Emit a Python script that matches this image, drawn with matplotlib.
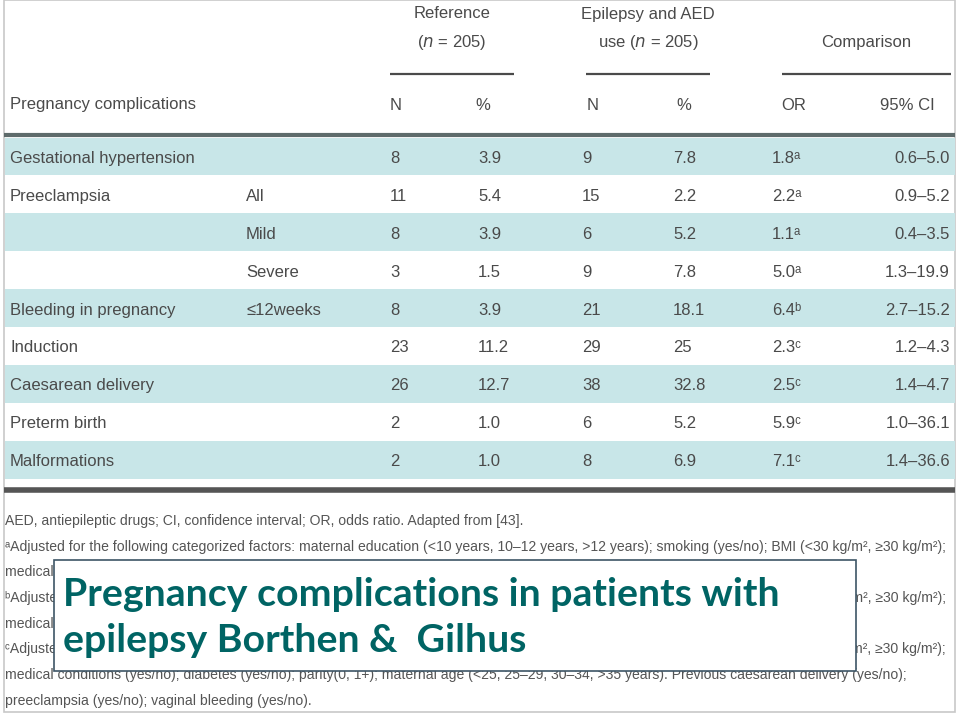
import matplotlib
matplotlib.use("Agg")
import matplotlib.pyplot as plt
from matplotlib.patches import Rectangle

# table data
complications = ["Gestational hypertension", "Preeclampsia", "", "", "Bleeding in pregnancy",
                 "Induction", "Caesarean delivery", "Preterm birth", "Malformations"]
subgroups = ["", "All", "Mild", "Severe", "≤12weeks", "", "", "", ""]
ref_n = [8, 11, 8, 3, 8, 23, 26, 2, 2]
ref_pct = ["3.9", "5.4", "3.9", "1.5", "3.9", "11.2", "12.7", "1.0", "1.0"]
aed_n = [9, 15, 6, 9, 21, 29, 38, 6, 8]
aed_pct = ["7.8", "2.2", "5.2", "7.8", "18.1", "25", "32.8", "5.2", "6.9"]
odds = ["1.8", "2.2", "1.1", "5.0", "6.4", "2.3", "2.5", "5.9", "7.1"]
adjust = ["ᵃ", "ᵃ", "ᵃ", "ᵃ", "ᵇ", "ᶜ", "ᶜ", "ᶜ", "ᶜ"]
ci = ["0.6–5.0", "0.9–5.2", "0.4–3.5", "1.3–19.9", "2.7–15.2",
      "1.2–4.3", "1.4–4.7", "1.0–36.1", "1.4–36.6"]

footnotes = [
    "AED, antiepileptic drugs; CI, confidence interval; OR, odds ratio. Adapted from [43].",
    "ᵃAdjusted for the following categorized factors: maternal education (<10 years, 10–12 years, >12 years); smoking (yes/no); BMI (<30 kg/m², ≥30 kg/m²);",
    "medical conditions (yes/no); diabetes (yes/no); parity(0, 1+); maternal age (<25, 25–29, 30–34, >35 years).",
    "ᵇAdjusted for the following categorized factors: maternal education (<10 years, 10–12 years, >12 years); smoking (yes/no); BMI (<30 kg/m², ≥30 kg/m²);",
    "medical conditions (yes/no); diabetes (yes/no); parity(0, 1+); maternal age (<25, 25–29, 30–34, >35 years).",
    "ᶜAdjusted for the following categorized factors: maternal education (<10 years, 10–12 years, >12 years); smoking (yes/no); BMI (<30 kg/m², ≥30 kg/m²);",
    "medical conditions (yes/no); diabetes (yes/no); parity(0, 1+); maternal age (<25, 25–29, 30–34, >35 years). Previous caesarean delivery (yes/no);",
    "preeclampsia (yes/no); vaginal bleeding (yes/no).",
]
title_lines = ["Pregnancy complications in patients with", "epilepsy Borthen &  Gilhus"]

W, H = 960, 716
fig = plt.figure(figsize=(W / 100, H / 100), dpi=100)
ax = fig.add_axes([0, 0, 1, 1])
ax.set_xlim(0, W)
ax.set_ylim(H, 0)
ax.axis("off")

fam = ["Liberation Sans", "DejaVu Sans"]
txt_col = "#4a4a4a"
teal = "#c8e6e8"
fs = 12

# outer frame
ax.add_patch(Rectangle((4, 0), 951, 712, fill=False, ec="#c8c8c8", lw=1.2))

# header
ax.text(452, 14, "Reference", ha="center", va="center", fontsize=fs, family=fam, color=txt_col)
ax.text(452, 43, "($n$ = 205)", ha="center", va="center", fontsize=fs, family=fam, color=txt_col)
ax.text(648, 14, "Epilepsy and AED", ha="center", va="center", fontsize=fs, family=fam, color=txt_col)
ax.text(648, 43, "use ($n$ = 205)", ha="center", va="center", fontsize=fs, family=fam, color=txt_col)
ax.text(866, 43, "Comparison", ha="center", va="center", fontsize=fs, family=fam, color=txt_col)
for x0, x1 in [(390, 514), (586, 710), (782, 951)]:
    ax.plot([x0, x1], [74, 74], color="#4a4a4a", lw=1.6, solid_capstyle="butt")

hy = 105
ax.text(10, hy, "Pregnancy complications", va="center", fontsize=fs, family=fam, color=txt_col)
for x, s in [(390, "N"), (475, "%"), (587, "N"), (676, "%"), (781, "OR"), (880, "95% CI")]:
    ax.text(x, hy, s, va="center", fontsize=fs, family=fam, color=txt_col)
ax.plot([4, 955], [135, 135], color="#5e6b6b", lw=3, solid_capstyle="butt")

# body rows
top = 137.5
row_h = 37.9
for i in range(len(complications)):
    y0 = top + i * row_h
    yc = y0 + row_h / 2 + 2
    if i % 2 == 0:
        ax.add_patch(Rectangle((5, y0), 950, row_h, color=teal, lw=0))
    ax.text(10, yc, complications[i], va="center", fontsize=fs, family=fam, color=txt_col)
    ax.text(246, yc, subgroups[i], va="center", fontsize=fs, family=fam, color=txt_col)
    ax.text(390, yc, str(ref_n[i]), va="center", fontsize=fs, family=fam, color=txt_col)
    ax.text(478, yc, ref_pct[i], va="center", fontsize=fs, family=fam, color=txt_col)
    ax.text(582, yc, str(aed_n[i]), va="center", fontsize=fs, family=fam, color=txt_col)
    ax.text(673, yc, aed_pct[i], va="center", fontsize=fs, family=fam, color=txt_col)
    ax.text(772, yc, odds[i] + adjust[i], va="center", fontsize=fs, family=fam, color=txt_col)
    ax.text(950, yc, ci[i], va="center", ha="right", fontsize=fs, family=fam, color=txt_col)

ax.plot([4, 955], [490, 490], color="#555555", lw=4, solid_capstyle="butt")

# footnotes
for k, line in enumerate(footnotes):
    ax.text(5, 521 + k * 25.7, line, va="center", fontsize=10.1, family=fam, color="#555555")

# title box on top
ax.add_patch(Rectangle((54, 560), 802, 111, facecolor="white", edgecolor="#3d5566", lw=1.2, zorder=5))
tfam = ["Lato", "DejaVu Sans"]
ax.text(63, 594, title_lines[0], va="center", fontsize=28.3, family=tfam,
        fontweight="bold", color="#006464", zorder=6)
ax.text(63, 641, title_lines[1], va="center", fontsize=28.3, family=tfam,
        fontweight="bold", color="#006464", zorder=6)

fig.savefig("out.png", dpi=100)
